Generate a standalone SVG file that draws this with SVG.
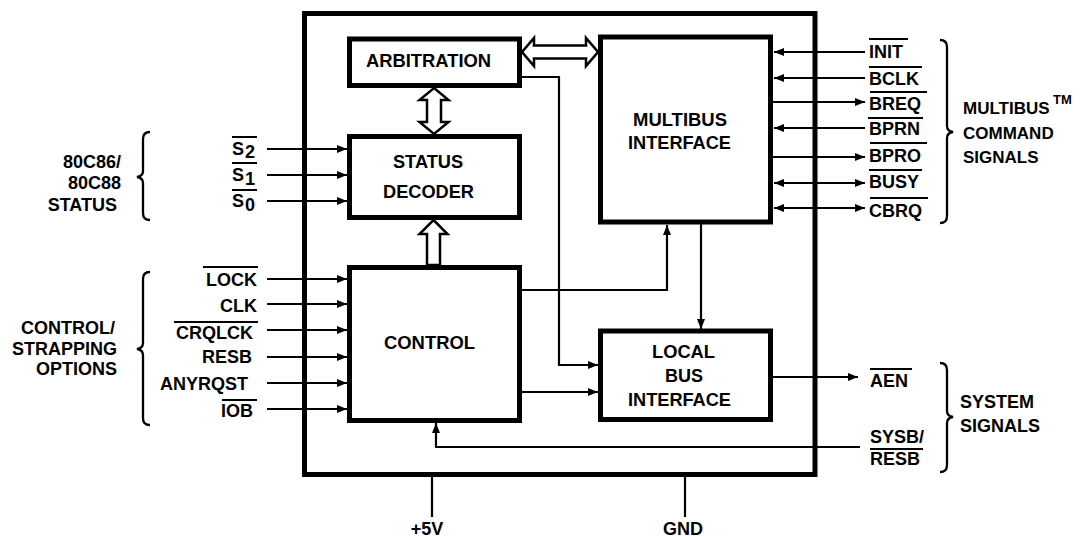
<svg xmlns="http://www.w3.org/2000/svg" width="1081" height="537" viewBox="0 0 1081 537">
<style>
text{font-family:"Liberation Sans",Arial,sans-serif;font-weight:bold;font-size:18px;fill:#000}
.g{font-size:17px}
.box{fill:#fff;stroke:#000;stroke-width:5}
.c{fill:none;stroke:#000;stroke-width:2.2}
.ob{stroke:#000;stroke-width:2}
.hol{fill:#fff;stroke:#000;stroke-width:2.5;stroke-linejoin:miter}
.br{fill:none;stroke:#000;stroke-width:2.3}
.e{text-anchor:end}
.m{text-anchor:middle}
</style>
<defs>
<marker id="ah" viewBox="0 0 10 8" refX="10" refY="4" markerWidth="10" markerHeight="8" markerUnits="userSpaceOnUse" orient="auto-start-reverse"><path d="M0,0 L10,4 L0,8 z" fill="#000"/></marker>
</defs>
<g id="outer"><rect x="304.5" y="13.5" width="510.5" height="461" fill="none" stroke="#000" stroke-width="5"/></g>
<g id="connectors">
<line class="c" x1="267" y1="149" x2="347" y2="149" marker-end="url(#ah)"/>
<line class="c" x1="267" y1="175" x2="347" y2="175" marker-end="url(#ah)"/>
<line class="c" x1="267" y1="201" x2="347" y2="201" marker-end="url(#ah)"/>
<line class="c" x1="267" y1="279" x2="347" y2="279" marker-end="url(#ah)"/>
<line class="c" x1="267" y1="304" x2="347" y2="304" marker-end="url(#ah)"/>
<line class="c" x1="267" y1="330" x2="347" y2="330" marker-end="url(#ah)"/>
<line class="c" x1="267" y1="357" x2="347" y2="357" marker-end="url(#ah)"/>
<line class="c" x1="267" y1="383" x2="347" y2="383" marker-end="url(#ah)"/>
<line class="c" x1="267" y1="409" x2="347" y2="409" marker-end="url(#ah)"/>
<line class="c" x1="865" y1="52" x2="774" y2="52" marker-end="url(#ah)"/>
<line class="c" x1="865" y1="78" x2="774" y2="78" marker-end="url(#ah)"/>
<line class="c" x1="773" y1="102" x2="865" y2="102" marker-end="url(#ah)"/>
<line class="c" x1="865" y1="128" x2="774" y2="128" marker-end="url(#ah)"/>
<line class="c" x1="773" y1="157" x2="865" y2="157" marker-end="url(#ah)"/>
<line class="c" x1="774" y1="183" x2="865" y2="183" marker-start="url(#ah)" marker-end="url(#ah)"/>
<line class="c" x1="774" y1="208" x2="865" y2="208" marker-start="url(#ah)" marker-end="url(#ah)"/>
<polyline class="c" points="522,77 559,77 559,365 598,365" marker-end="url(#ah)"/>
<polyline class="c" points="522,290 667,290 667,225" marker-end="url(#ah)"/>
<line class="c" x1="701" y1="224" x2="701" y2="329" marker-end="url(#ah)"/>
<line class="c" x1="522" y1="392" x2="598" y2="392" marker-end="url(#ah)"/>
<line class="c" x1="773" y1="377" x2="858" y2="377" marker-end="url(#ah)"/>
<polyline class="c" points="860,447 436,447 436,423" marker-end="url(#ah)"/>
<line class="c" x1="432" y1="477" x2="432" y2="517"/>
<line class="c" x1="685" y1="477" x2="685" y2="517"/>
<polygon class="hol" points="522,52 534,38 534,45.5 586,45.5 586,38 598,52 586,66 586,58.5 534,58.5 534,66"/>
<polygon class="hol" points="434,88 448.5,100 441,100 441,122 448.5,122 434,134 419.5,122 427,122 427,100 419.5,100"/>
<polygon class="hol" points="433.5,220 447.5,234 440,234 440,265 427,265 427,234 419.5,234"/>
</g>
<g id="arbitration"><rect class="box" x="349.5" y="39" width="170" height="46.5"/><text x="366" y="67" textLength="125" lengthAdjust="spacingAndGlyphs">ARBITRATION</text></g>
<g id="status-decoder"><rect class="box" x="349.5" y="136.5" width="170" height="81"/><text x="393" y="168" textLength="70" lengthAdjust="spacingAndGlyphs">STATUS</text><text x="383" y="198" textLength="91" lengthAdjust="spacingAndGlyphs">DECODER</text></g>
<g id="control"><rect class="box" x="349.5" y="267.5" width="170" height="153"/><text x="384" y="349" textLength="91" lengthAdjust="spacingAndGlyphs">CONTROL</text></g>
<g id="multibus-interface"><rect class="box" x="600.5" y="37" width="170" height="185"/><text x="633" y="126" textLength="94" lengthAdjust="spacingAndGlyphs">MULTIBUS</text><text x="628" y="149" textLength="103" lengthAdjust="spacingAndGlyphs">INTERFACE</text></g>
<g id="local-bus-interface"><rect class="box" x="600.5" y="331" width="170" height="88.5"/><text x="652" y="358" textLength="63" lengthAdjust="spacingAndGlyphs">LOCAL</text><text x="665" y="382" textLength="38" lengthAdjust="spacingAndGlyphs">BUS</text><text x="628" y="406" textLength="103" lengthAdjust="spacingAndGlyphs">INTERFACE</text></g>
<g id="status-inputs">
<path class="br" d="M150,132 Q143,132 143,139 L143,171 Q143,176 137,177 Q143,178 143,183 L143,213 Q143,220 150,220"/>
<text class="e" x="121" y="168">80C86/</text>
<text class="e" x="121" y="189">80C88</text>
<text class="e" x="117" y="211">STATUS</text>
<text x="232" y="155">S</text><text x="245" y="158">2</text><line class="ob" x1="232" y1="137" x2="257" y2="137"/>
<text x="232" y="181">S</text><text x="245" y="185">1</text><line class="ob" x1="232" y1="163" x2="257" y2="163"/>
<text x="232" y="207">S</text><text x="245" y="211">0</text><line class="ob" x1="232" y1="190" x2="257" y2="190"/>
</g>
<g id="control-inputs">
<path class="br" d="M150,272 Q143,272 143,279 L143,343 Q143,348 137,349 Q143,350 143,355 L143,418 Q143,425 150,425"/>
<text class="e" x="115" y="334">CONTROL/</text>
<text class="e" x="117" y="355">STRAPPING</text>
<text class="e" x="117" y="375">OPTIONS</text>
<text class="e" x="257" y="286">LOCK</text><line class="ob" x1="203" y1="267" x2="258" y2="267"/>
<text class="e" x="257" y="312">CLK</text>
<text class="e" x="253" y="339">CRQLCK</text><line class="ob" x1="174" y1="322" x2="258" y2="322"/>
<text class="e" x="252" y="363">RESB</text>
<text class="e" x="248" y="390">ANYRQST</text>
<text class="e" x="253" y="417">IOB</text><line class="ob" x1="222" y1="400" x2="257" y2="400"/>
</g>
<g id="multibus-signals">
<text x="869" y="58">INIT</text><line class="ob" x1="869" y1="39" x2="908" y2="39"/>
<text x="869" y="85">BCLK</text><line class="ob" x1="869" y1="67" x2="922" y2="67"/>
<text x="869" y="110">BREQ</text><line class="ob" x1="870" y1="92" x2="927" y2="92"/>
<text x="869" y="135">BPRN</text><line class="ob" x1="868" y1="118" x2="923" y2="118"/>
<text x="869" y="162">BPRO</text><line class="ob" x1="870" y1="143" x2="927" y2="143"/>
<text x="869" y="188">BUSY</text><line class="ob" x1="869" y1="170" x2="922" y2="170"/>
<text x="869" y="217">CBRQ</text><line class="ob" x1="870" y1="198" x2="928" y2="198"/>
<path class="br" d="M940,40 Q947,40 947,47 L947,126 Q947,131 953,132 Q947,133 947,138 L947,216 Q947,223 940,223"/>
<text class="g" x="963" y="114">MULTIBUS</text><text x="1053" y="104" style="font-size:13px">TM</text>
<text class="g" x="963" y="139">COMMAND</text>
<text class="g" x="963" y="163">SIGNALS</text>
</g>
<g id="system-signals">
<text x="870" y="387">AEN</text><line class="ob" x1="870" y1="369" x2="912" y2="369"/>
<text x="870" y="443">SYSB/</text>
<text x="870" y="465">RESB</text><line class="ob" x1="870" y1="449" x2="923" y2="449"/>
<path class="br" d="M940,363 Q947,363 947,370 L947,411 Q947,416 953,417 Q947,418 947,423 L947,465 Q947,472 940,472"/>
<text x="960" y="408">SYSTEM</text>
<text x="960" y="432">SIGNALS</text>
</g>
<g id="power">
<text class="m" x="427" y="535">+5V</text>
<text class="m" x="683" y="535">GND</text>
</g>
</svg>
